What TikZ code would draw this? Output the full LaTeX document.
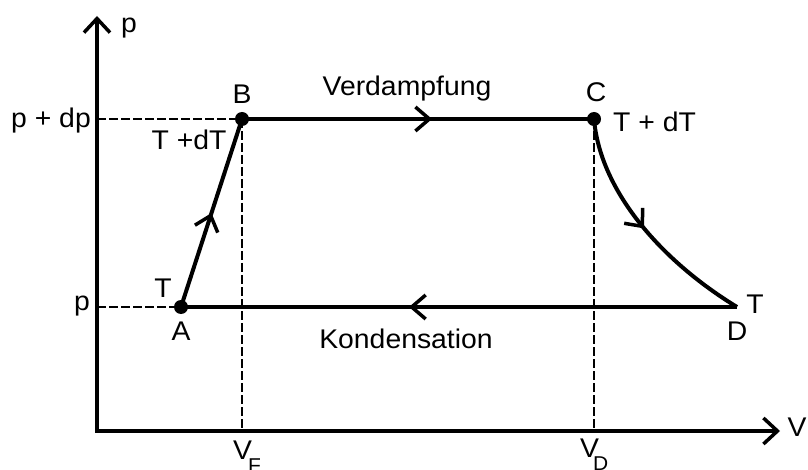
\documentclass[tikz,border=0pt]{standalone}
\usepackage{fontspec}
\setmainfont[FakeStretch=1.05]{Liberation Sans}
\usetikzlibrary{arrows.meta,decorations.markings}
\begin{document}
\begin{tikzpicture}[x=1pt,y=-1pt,
  lbl/.style={inner sep=0pt, font=\fontsize{27}{30}\selectfont},
  axisline/.style={line width=3.5pt, line join=miter},
  axtip/.tip={Straight Barb[length=14pt,width=26pt,line width=3.5pt]},
  proc/.style={line width=4pt},
  guide/.style={line width=1.3pt, dash pattern=on 9pt off 3pt},
  dot/.style={circle, fill=black, inner sep=0pt, minimum size=14pt},
  midarrow/.style={postaction={decorate}, decoration={markings,
     mark=at position #1 with {\arrow{Straight Barb[length=14pt,width=24pt,line width=3.5pt]}}}}
]
\useasboundingbox (0,0) rectangle (808,470);

% coordinates
\coordinate (O) at (97,431);
\coordinate (Ytop) at (97,16);
\coordinate (Xend) at (780,431);
\coordinate (Pdp) at (97,119);
\coordinate (Pp) at (97,307);
\coordinate (VF) at (242,431);
\coordinate (VD) at (594,431);
\coordinate (D) at (737,307);

% points
\node[dot] (A) at (181,307) {};
\node[dot] (B) at (242,119) {};
\node[dot] (C) at (594,119) {};

% guide lines
\draw[guide] (Pdp) -- (B.center);
\draw[guide] (Pp) -- (A.center);
\draw[guide] (B.center) -- (VF);
\draw[guide] (C.center) -- (VD);

% axes
\draw[axisline, {axtip}-{axtip}] (Ytop) -- (O) -- (Xend);

% process
\draw[proc, midarrow=0.5] (A.center) -- (B.center);
\draw[proc, midarrow=0.54] (B.center) -- (C.center);
\draw[proc, midarrow=0.5] (C.center) .. controls (600,190) and (660,260) .. (D);
\draw[proc, midarrow=0.59] (D) -- (A.center);

% labels
\node[lbl, anchor=base] (lp) at (129,33) {p};
\node[lbl, anchor=base] (lV) at (797,436) {V};
\node[lbl, anchor=base east] (lpdp) at (91,128) {p + dp};
\node[lbl, anchor=base east] (lpp) at (90,310) {p};
\node[lbl, anchor=base] (lB) at (242,104) {B};
\node[lbl, anchor=base] (lC) at (596,102) {C};
\node[lbl, anchor=base] (lA) at (181,340) {A};
\node[lbl, anchor=base] (lD) at (737,340) {D};
\node[lbl, anchor=base] (lTB) at (189,150) {T +dT};
\node[lbl, anchor=base west] (lTC) at (613,132) {T + dT};
\node[lbl, anchor=base] (lTA) at (163,297) {T};
\node[lbl, anchor=base] (lTD) at (755,313) {T};
\node[lbl, anchor=base] (lverd) at (407,96) {Verdampfung};
\node[lbl, anchor=base] (lkond) at (406,348) {Kondensation};
\node[lbl, anchor=base west] (lVF) at (233,459) {V\kern-4pt\raisebox{-13pt}{\fontsize{20}{22}\selectfont F}};
\node[lbl, anchor=base west] (lVD) at (580,457) {V\kern-6pt\raisebox{-13pt}{\fontsize{20}{22}\selectfont D}};
\end{tikzpicture}
\end{document}
